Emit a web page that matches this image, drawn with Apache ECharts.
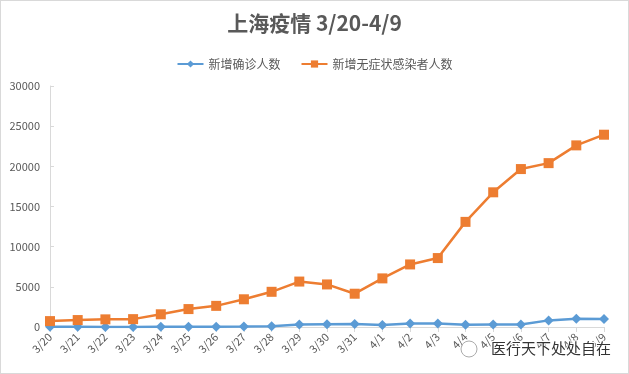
<!DOCTYPE html>
<html><head><meta charset="utf-8">
<script src="https://cdn.jsdelivr.net/npm/echarts@6/dist/echarts.min.js"></script>
<style>html,body{margin:0;padding:0;background:#fff}#c{width:629px;height:374px;box-sizing:border-box;border:1px solid #d9d9d9}</style>
</head><body><div id="c"></div>
<script>
const categories = ['3/20','3/21','3/22','3/23','3/24','3/25','3/26','3/27','3/28','3/29','3/30','3/31','4/1','4/2','4/3','4/4','4/5','4/6','4/7','4/8','4/9'];
const confirmed = [24,31,4,4,29,38,45,50,96,326,355,358,260,438,425,268,311,322,824,1015,1006];
const asymptomatic = [734,865,951,979,1582,2231,2631,3450,4381,5656,5298,4144,6051,7788,8581,13086,16766,19660,20398,22609,23937];
const seriesNames = ['新增确诊人数','新增无症状感染者人数'];
const titleText = '上海疫情 3/20-4/9';
const watermark = '医行天下处处自在';

const font = '"Noto Sans CJK SC", "Liberation Sans", sans-serif';
const chart = echarts.init(document.getElementById('c'), null, {renderer:'canvas'});
chart.setOption({
  animation:false,
  textStyle:{fontFamily:font},
  title:{text:titleText,left:'center',top:7,textStyle:{fontSize:21,fontWeight:'bold',color:'#595959',fontFamily:font}},
  legend:{top:52,left:'center',itemWidth:26,itemHeight:9,itemGap:20,
    textStyle:{fontSize:12,color:'#595959',fontFamily:font},data:seriesNames},
  grid:{left:49,right:24,top:85,bottom:46,containLabel:false},
  xAxis:{type:'category',data:categories,boundaryGap:false,
    axisLine:{lineStyle:{color:'#d9d9d9'}},
    axisTick:{show:true,alignWithLabel:true,length:5,lineStyle:{color:'#d9d9d9'}},
    axisLabel:{rotate:45,fontSize:11,color:'#595959',margin:8,interval:0}},
  yAxis:{type:'value',min:0,max:30000,interval:5000,
    axisLine:{show:true,lineStyle:{color:'#d9d9d9'}},
    axisTick:{show:true,inside:true,length:4,lineStyle:{color:'#d9d9d9'}},
    splitLine:{show:false},
    axisLabel:{fontSize:11,color:'#595959',margin:10,formatter:function(v){return String(v);}}},
  series:[
    {name:seriesNames[0],type:'line',data:confirmed,symbol:'diamond',symbolSize:10,
      lineStyle:{width:2.5,color:'#5B9BD5'},itemStyle:{color:'#5B9BD5'}},
    {name:seriesNames[1],type:'line',data:asymptomatic,symbol:'rect',symbolSize:10,
      lineStyle:{width:2.5,color:'#ED7D31'},itemStyle:{color:'#ED7D31'}}
  ],
  graphic:[
    {type:'circle',shape:{cx:468,cy:348,r:8},style:{fill:'rgba(255,255,255,0.7)',stroke:'#aaa',lineWidth:1},z:100},
    {type:'text',left:489,top:339,style:{text:watermark,fontSize:15,fill:'#333',stroke:'#fff',lineWidth:2,fontFamily:font},z:100}
  ]
});
</script></body></html>
